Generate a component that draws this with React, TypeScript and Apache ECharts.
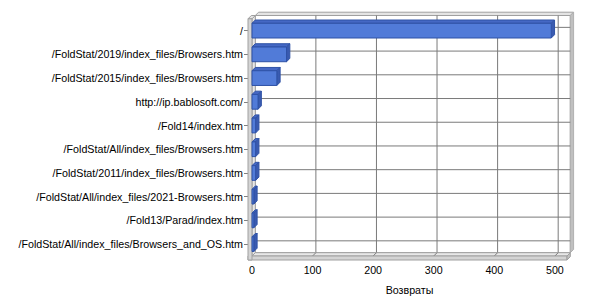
import React, { useEffect, useRef } from "react";
import * as echarts from "echarts";

const CATEGORIES = [
  "/",
  "/FoldStat/2019/index_files/Browsers.htm",
  "/FoldStat/2015/index_files/Browsers.htm",
  "http://ip.bablosoft.com/",
  "/Fold14/index.htm",
  "/FoldStat/All/index_files/Browsers.htm",
  "/FoldStat/2011/index_files/Browsers.htm",
  "/FoldStat/All/index_files/2021-Browsers.htm",
  "/Fold13/Parad/index.htm",
  "/FoldStat/All/index_files/Browsers_and_OS.htm",
];
const VALUES = [494, 57, 41, 10, 6, 6, 6, 3, 3, 3];
const X_TICKS = [0, 100, 200, 300, 400, 500];
const X_MAX = 520;
const AXIS_NAME = "Возвраты";

const D = 3.3; // depth offset (px) for pseudo-3D
const WALL = 4; // wall thickness (px)
const FONT = "Liberation Sans";
const FS = 10.7;

export default function App() {
  const ref = useRef<HTMLDivElement>(null);
  useEffect(() => {
    if (!ref.current) return;
    const chart = echarts.init(ref.current, null, { renderer: "svg" });

    const wallsRender = (params: any, api: any) => {
      const n = CATEGORIES.length;
      const band = api.size([0, 1])[1];
      const xl = api.coord([0, 0])[0];
      const xr = api.coord([X_MAX, 0])[0];
      const yt = api.coord([0, 0])[1] - band / 2;
      const yb = api.coord([0, n - 1])[1] + band / 2;
      const wallFill = "#d4d4d4";
      const edge = "#a0a0a0";
      const grid = "#7a7a7a";
      const children: any[] = [];
      children.push({
        type: "rect",
        shape: { x: xl + D, y: yt - D, width: xr - xl, height: yb - yt },
        style: { fill: "#ffffff", stroke: edge, lineWidth: 1 },
      });
      children.push({
        type: "polygon",
        shape: {
          points: [
            [xl + D, yt - D],
            [xl + 2 * D, yt - 2 * D],
            [xr + 2 * D, yt - 2 * D],
            [xr + D, yt - D],
          ],
        },
        style: { fill: "#e4e4e4", stroke: edge, lineWidth: 1 },
      });
      children.push({
        type: "polygon",
        shape: {
          points: [
            [xr + D, yt - D],
            [xr + 2 * D, yt - 2 * D],
            [xr + 2 * D, yb - 2 * D],
            [xr + D, yb - D],
          ],
        },
        style: { fill: "#c0c0c0", stroke: "#b0b0b0", lineWidth: 1 },
      });
      X_TICKS.forEach((t) => {
        if (t === 0) return;
        const x = api.coord([t, 0])[0];
        children.push({
          type: "line",
          shape: { x1: x + D, y1: yt - D, x2: x + D, y2: yb - D },
          style: { stroke: grid, lineWidth: 1 },
        });
      });
      for (let i = 0; i < n; i++) {
        const y = api.coord([0, i])[1];
        children.push({
          type: "line",
          shape: { x1: xl + D, y1: y - D, x2: xr + D, y2: y - D },
          style: { stroke: grid, lineWidth: 1 },
        });
        children.push({
          type: "line",
          shape: { x1: xl, y1: y, x2: xl + D, y2: y - D },
          style: { stroke: grid, lineWidth: 1 },
        });
      }
      children.push({
        type: "polygon",
        shape: {
          points: [
            [xl, yb],
            [xl + D, yb - D],
            [xr + D, yb - D],
            [xr, yb],
          ],
        },
        style: { fill: "#e8e8e8", stroke: edge, lineWidth: 1 },
      });
      X_TICKS.forEach((t) => {
        if (t === 0) return;
        const x = api.coord([t, 0])[0];
        children.push({
          type: "line",
          shape: { x1: x, y1: yb, x2: x + D, y2: yb - D },
          style: { stroke: grid, lineWidth: 1 },
        });
      });
      children.push({
        type: "rect",
        shape: { x: xl - WALL, y: yb, width: xr - xl + WALL, height: WALL },
        style: { fill: wallFill, stroke: edge, lineWidth: 1 },
      });
      children.push({
        type: "polygon",
        shape: {
          points: [
            [xr, yb],
            [xr + D, yb - D],
            [xr + D, yb - D + WALL],
            [xr, yb + WALL],
          ],
        },
        style: { fill: "#c0c0c0", stroke: edge, lineWidth: 1 },
      });
      children.push({
        type: "polygon",
        shape: {
          points: [
            [xl, yt],
            [xl + D, yt - D],
            [xl + D, yb - D],
            [xl, yb],
          ],
        },
        style: { fill: "#e8e8e8", stroke: edge, lineWidth: 1 },
      });
      children.push({
        type: "polygon",
        shape: {
          points: [
            [xl - WALL, yt],
            [xl - WALL + D, yt - D],
            [xl + D, yt - D],
            [xl, yt],
          ],
        },
        style: { fill: "#e4e4e4", stroke: edge, lineWidth: 1 },
      });
      children.push({
        type: "rect",
        shape: { x: xl - WALL, y: yt, width: WALL, height: yb - yt + WALL },
        style: { fill: wallFill, stroke: edge, lineWidth: 1 },
      });
      return { type: "group", children };
    };

    const barRender = (params: any, api: any) => {
      const v = api.value(0);
      const idx = api.value(1);
      const end = api.coord([v, idx]);
      const start = api.coord([0, idx]);
      const h = api.size([0, 1])[1] * 0.62;
      const x0 = start[0];
      const x1 = end[0];
      const y0 = end[1] - h / 2;
      const y1 = end[1] + h / 2;
      const outline = "#2f52a6";
      return {
        type: "group",
        children: [
          {
            type: "polygon",
            shape: {
              points: [
                [x0, y0],
                [x0 + D, y0 - D],
                [x1 + D, y0 - D],
                [x1, y0],
              ],
            },
            style: { fill: "#4568c4", stroke: outline, lineWidth: 1 },
          },
          {
            type: "polygon",
            shape: {
              points: [
                [x1, y0],
                [x1 + D, y0 - D],
                [x1 + D, y1 - D],
                [x1, y1],
              ],
            },
            style: { fill: "#3a5bb0", stroke: outline, lineWidth: 1 },
          },
          {
            type: "rect",
            shape: { x: x0, y: y0, width: Math.max(x1 - x0, 1), height: h },
            style: { fill: "#517bd8", stroke: outline, lineWidth: 1 },
          },
        ],
      };
    };

    chart.setOption({
      animation: false,
      backgroundColor: "#ffffff",
      grid: { left: 252, top: 18.8, width: 315, height: 238.4, containLabel: false },
      xAxis: {
        type: "value",
        min: 0,
        max: X_MAX,
        interval: 100,
        name: AXIS_NAME,
        nameLocation: "middle",
        nameGap: 28,
        nameTextStyle: { color: "#000", fontSize: FS, fontFamily: FONT },
        axisLine: { show: false },
        axisTick: { show: false },
        splitLine: { show: false },
        axisLabel: {
          color: "#000",
          fontSize: FS,
          fontFamily: FONT,
          margin: 8,
          showMaxLabel: false,
        },
      },
      yAxis: {
        type: "category",
        data: CATEGORIES,
        inverse: true,
        axisLine: { show: false },
        axisTick: { show: true, length: 8, lineStyle: { color: "#808080" }, alignWithLabel: true },
        splitLine: { show: false },
        axisLabel: { color: "#000", fontSize: FS, fontFamily: FONT, margin: 9 },
      },
      series: [
        {
          type: "custom",
          renderItem: wallsRender,
          data: [[0, 0]],
          z: 1,
          silent: true,
          clip: false,
        },
        {
          type: "custom",
          renderItem: barRender,
          data: VALUES.map((v, i) => [v, i]),
          encode: { x: 0, y: 1 },
          z: 5,
          clip: false,
        },
      ],
    });
    return () => chart.dispose();
  }, []);
  return (
    <div
      ref={ref}
      style={{ position: "fixed", left: 0, top: 0, width: 600, height: 300, background: "#fff" }}
    />
  );
}
